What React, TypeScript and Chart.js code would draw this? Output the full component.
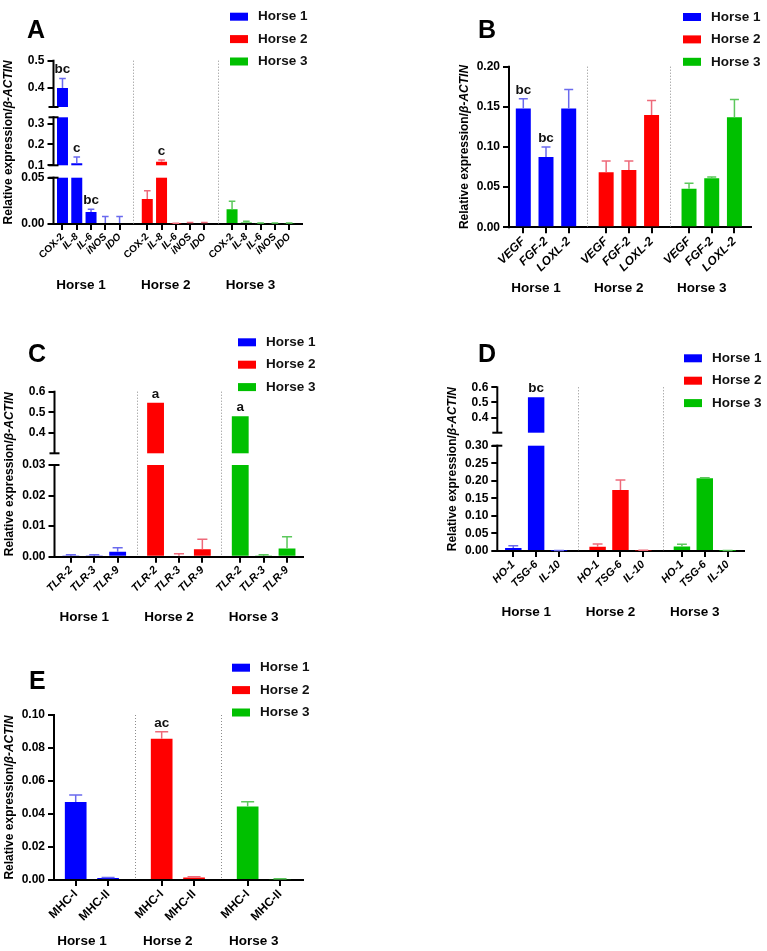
import { useEffect, useRef } from 'react';
import { Chart, registerables, LinearScale } from 'chart.js';

Chart.register(...registerables);

const FONT = '"Liberation Sans", Arial, Helvetica, sans-serif';
Chart.defaults.font.family = FONT;

// ---------- shared ----------
const HORSES = ['Horse 1', 'Horse 2', 'Horse 3'];
const HORSE_COLORS = ['#0000ff', '#ff0000', '#00c000'];
const ERROR_COLORS = ['#6a6aee', '#ee6a7a', '#5cc85c'];
const UPRIGHT_GENES = ['COX-2', 'MHC-I', 'MHC-II'];

// ---------- A: inflammatory mediators ----------
const genesA = ['COX-2', 'IL-8', 'IL-6', 'iNOS', 'IDO'];
const meanA = [
  [0.4, 0.11, 0.013, 0.001, 0.001],
  [0.027, 0.117, 0.0005, 0.0012, 0.0012],
  [0.016, 0.0015, 0.0008, 0.0008, 0.0008],
];
const sdA = [
  [0.035, 0.03, 0.003, 0.007, 0.007],
  [0.009, 0.008, 0.0002, 0.0004, 0.0004],
  [0.0085, 0.0015, 0.0004, 0.0003, 0.0003],
];
const marksA = [
  ['bc', 'c', 'bc', '', ''],
  ['', 'c', '', '', ''],
  ['', '', '', '', ''],
];
const yTicksA = [0, 0.05, 0.1, 0.2, 0.3, 0.4, 0.5];
const yLabelsA = ['0.00', '0.05', '0.1', '0.2', '0.3', '0.4', '0.5'];

// ---------- B: angiogenic factors ----------
const genesB = ['VEGF', 'FGF-2', 'LOXL-2'];
const meanB = [
  [0.148, 0.0875, 0.148],
  [0.0685, 0.0713, 0.14],
  [0.048, 0.061, 0.137],
];
const sdB = [
  [0.012, 0.0125, 0.0235],
  [0.014, 0.0112, 0.018],
  [0.007, 0.0015, 0.022],
];
const marksB = [
  ['bc', 'bc', ''],
  ['', '', ''],
  ['', '', ''],
];
const yTicksB = [0, 0.05, 0.1, 0.15, 0.2];
const yLabelsB = ['0.00', '0.05', '0.10', '0.15', '0.20'];

// ---------- C: toll-like receptors ----------
const genesC = ['TLR-2', 'TLR-3', 'TLR-9'];
const meanC = [
  [0.0002, 0.0002, 0.0016],
  [0.546, 0.0003, 0.0024],
  [0.48, 0.0002, 0.0027],
];
const sdC = [
  [0.0004, 0.0004, 0.0013],
  [0, 0.0007, 0.0033],
  [0, 0.0004, 0.0038],
];
const marksC = [
  ['', '', ''],
  ['a', '', ''],
  ['a', '', ''],
];
const yTicksC = [0, 0.01, 0.02, 0.03, 0.4, 0.5, 0.6];
const yLabelsC = ['0.00', '0.01', '0.02', '0.03', '0.4', '0.5', '0.6'];

// ---------- D: immunomodulatory genes ----------
const genesD = ['HO-1', 'TSG-6', 'IL-10'];
const meanD = [
  [0.0085, 0.535, 0.0008],
  [0.0123, 0.174, 0.0012],
  [0.0125, 0.207, 0.0008],
];
const sdD = [
  [0.0065, 0, 0.0004],
  [0.0077, 0.028, 0.0008],
  [0.0065, 0.0015, 0.0006],
];
const marksD = [
  ['', 'bc', ''],
  ['', '', ''],
  ['', '', ''],
];
const yTicksD = [0, 0.05, 0.1, 0.15, 0.2, 0.25, 0.3, 0.4, 0.5, 0.6];
const yLabelsD = ['0.00', '0.05', '0.10', '0.15', '0.20', '0.25', '0.30', '0.4', '0.5', '0.6'];

// ---------- E: MHC ----------
const genesE = ['MHC-I', 'MHC-II'];
const meanE = [
  [0.0473, 0.0012],
  [0.0856, 0.0015],
  [0.0445, 0.0005],
];
const sdE = [
  [0.0042, 0.0003],
  [0.0043, 0.0004],
  [0.003, 0.0002],
];
const marksE = [
  ['', ''],
  ['ac', ''],
  ['', ''],
];
const yTicksE = [0, 0.02, 0.04, 0.06, 0.08, 0.1];
const yLabelsE = ['0.00', '0.02', '0.04', '0.06', '0.08', '0.10'];

// ---------- broken value axis ----------
type Segment = { min: number; max: number; size: number };
type AxisSpec = { segments: Segment[]; gaps: number[]; ticks: number[] };

const axisSpecs = new WeakMap<HTMLCanvasElement, AxisSpec>();

class BrokenLinearScale extends (LinearScale as any) {
  static id = 'brokenLinear';
  static defaults = {};

  axisSpec(): AxisSpec {
    return axisSpecs.get(this.chart.canvas) as AxisSpec;
  }

  determineDataLimits() {
    const s = this.axisSpec();
    this.min = s.segments[0].min;
    this.max = s.segments[s.segments.length - 1].max;
  }

  buildTicks() {
    return this.axisSpec().ticks.map((value) => ({ value }));
  }

  // pixel band [lo (bottom), hi (top)] of each segment, bottom-up
  bands() {
    const s = this.axisSpec();
    const total =
      s.segments.reduce((acc, g) => acc + g.size, 0) + s.gaps.reduce((acc, g) => acc + g, 0);
    const k = (this.bottom - this.top) / total;
    let y = this.bottom;
    return s.segments.map((seg, i) => {
      const lo = y;
      const hi = y - seg.size * k;
      y = hi - (s.gaps[i] || 0) * k;
      return { ...seg, lo, hi };
    });
  }

  getPixelForValue(value: number) {
    const bands = this.bands();
    for (let i = 0; i < bands.length; i++) {
      const b = bands[i];
      if (value <= b.max || i === bands.length - 1) {
        const t = Math.max(0, (value - b.min) / (b.max - b.min));
        return b.lo - t * (b.lo - b.hi);
      }
    }
    return this.bottom;
  }

  getValueForPixel(pixel: number) {
    const bands = this.bands();
    for (const b of bands) {
      if (pixel >= b.hi) {
        const t = (b.lo - pixel) / (b.lo - b.hi);
        return b.min + Math.max(0, t) * (b.max - b.min);
      }
    }
    return bands[bands.length - 1].max;
  }
}

Chart.register(BrokenLinearScale as any);

// ---------- panel layout ----------
type Panel = {
  letter: string;
  genes: string[];
  means: number[][];
  sds: number[][];
  marks: string[][];
  yTicks: number[];
  yLabels: string[];
  segments: Segment[];
  gaps: number[];
  box: { left: number; top: number; width: number; height: number };
  area: { left: number; top: number; right: number; bottom: number };
  padL: number;
  groupGap: number;
  padR: number;
  barFrac: number;
  tickFont: number;
  legend: { x: number; y: number };
  letterPos: { x: number; y: number };
};

const PANELS: Panel[] = [
  {
    letter: 'A',
    genes: genesA,
    means: meanA,
    sds: sdA,
    marks: marksA,
    yTicks: yTicksA,
    yLabels: yLabelsA,
    segments: [
      { min: 0, max: 0.05, size: 46.3 },
      { min: 0.1, max: 0.33, size: 48 },
      { min: 0.33, max: 0.5, size: 46.3 },
    ],
    gaps: [12.4, 10.3],
    box: { left: 0, top: 0, width: 383, height: 305 },
    area: { left: 53.5, top: 60.7, right: 302, bottom: 224 },
    padL: 0.63,
    groupGap: 0.94,
    padR: 0.9,
    barFrac: 0.77,
    tickFont: 10,
    legend: { x: 230, y: 16.7 },
    letterPos: { x: 27, y: 38 },
  },
  {
    letter: 'B',
    genes: genesB,
    means: meanB,
    sds: sdB,
    marks: marksB,
    yTicks: yTicksB,
    yLabels: yLabelsB,
    segments: [{ min: 0, max: 0.2, size: 1 }],
    gaps: [],
    box: { left: 383, top: 0, width: 384, height: 305 },
    area: { left: 126, top: 66.7, right: 368, bottom: 227.3 },
    padL: 0.63,
    groupGap: 0.65,
    padR: 0.73,
    barFrac: 0.66,
    tickFont: 12,
    legend: { x: 300, y: 17 },
    letterPos: { x: 95, y: 38 },
  },
  {
    letter: 'C',
    genes: genesC,
    means: meanC,
    sds: sdC,
    marks: marksC,
    yTicks: yTicksC,
    yLabels: yLabelsC,
    segments: [
      { min: 0, max: 0.03, size: 91.7 },
      { min: 0.3, max: 0.6, size: 61.6 },
    ],
    gaps: [11.7],
    box: { left: 0, top: 305, width: 383, height: 320 },
    area: { left: 54.5, top: 86.7, right: 302.7, bottom: 251.7 },
    padL: 0.7,
    groupGap: 0.62,
    padR: 0.67,
    barFrac: 0.72,
    tickFont: 11,
    legend: { x: 238, y: 37.3 },
    letterPos: { x: 28, y: 56.7 },
  },
  {
    letter: 'D',
    genes: genesD,
    means: meanD,
    sds: sdD,
    marks: marksD,
    yTicks: yTicksD,
    yLabels: yLabelsD,
    segments: [
      { min: 0, max: 0.3, size: 105.3 },
      { min: 0.3, max: 0.6, size: 45.4 },
    ],
    gaps: [13],
    box: { left: 383, top: 305, width: 384, height: 320 },
    area: { left: 114.3, top: 82.3, right: 361.3, bottom: 246 },
    padL: 0.7,
    groupGap: 0.69,
    padR: 0.73,
    barFrac: 0.72,
    tickFont: 11,
    legend: { x: 301, y: 53.3 },
    letterPos: { x: 95, y: 56.7 },
  },
  {
    letter: 'E',
    genes: genesE,
    means: meanE,
    sds: sdE,
    marks: marksE,
    yTicks: yTicksE,
    yLabels: yLabelsE,
    segments: [{ min: 0, max: 0.1, size: 1 }],
    gaps: [],
    box: { left: 0, top: 625, width: 383, height: 326 },
    area: { left: 54, top: 90, right: 302.7, bottom: 255 },
    padL: 0.67,
    groupGap: 0.655,
    padR: 0.7,
    barFrac: 0.67,
    tickFont: 12,
    legend: { x: 232, y: 42.7 },
    letterPos: { x: 29, y: 64 },
  },
];

const Y_AXIS_WIDTH = 53;
const X_AXIS_HEIGHT = 50;

const boldFont = (size: number, italic = false) =>
  `${italic ? 'italic ' : ''}bold ${size}px ${FONT}`;

// position of gene i of horse g along the category axis
const slot = (p: Panel, g: number, i: number) => g * (p.genes.length + p.groupGap) + i;

function decorPlugin(p: Panel) {
  const n = p.genes.length;
  return {
    id: 'panelDecor',
    afterDatasetsDraw(chart: any) {
      const { ctx, chartArea: a } = chart;
      const yScale = chart.scales.y;
      const xScale = chart.scales.x;
      const bands = yScale.bands();
      ctx.save();

      // white gap across the plot where the value axis is broken
      ctx.fillStyle = '#ffffff';
      for (let i = 0; i < bands.length - 1; i++) {
        const top = bands[i + 1].lo;
        const bottom = bands[i].hi;
        ctx.fillRect(a.left + 1, top, a.right - a.left, bottom - top);
      }

      // dotted separators between horses
      ctx.strokeStyle = '#8c8c8c';
      ctx.lineWidth = 1;
      ctx.setLineDash([1, 2]);
      for (let g = 0; g < HORSES.length - 1; g++) {
        const v = (slot(p, g, n - 1) + slot(p, g + 1, 0)) / 2;
        const px = Math.round(xScale.getPixelForValue(v)) + 0.5;
        ctx.beginPath();
        ctx.moveTo(px, a.top);
        ctx.lineTo(px, a.bottom);
        ctx.stroke();
      }
      ctx.setLineDash([]);

      // error bars (mean + SD) and significance letters
      chart.data.datasets.forEach((_ds: any, g: number) => {
        const meta = chart.getDatasetMeta(g);
        meta.data.forEach((bar: any, i: number) => {
          const { x, y, width } = bar.getProps(['x', 'y', 'width'], true);
          const sd = p.sds[g][i];
          const topPx = yScale.getPixelForValue(p.means[g][i] + sd);
          if (sd > 0) {
            const cap = width * 0.6;
            ctx.strokeStyle = ERROR_COLORS[g];
            ctx.lineWidth = 1.5;
            ctx.beginPath();
            ctx.moveTo(x, y);
            ctx.lineTo(x, topPx);
            ctx.moveTo(x - cap / 2, topPx);
            ctx.lineTo(x + cap / 2, topPx);
            ctx.stroke();
          }
          const mark = p.marks[g][i];
          if (mark) {
            ctx.fillStyle = '#111';
            ctx.font = boldFont(13.5);
            ctx.textAlign = 'center';
            ctx.textBaseline = 'bottom';
            ctx.fillText(mark, x, Math.min(topPx, y) - 2);
          }
        });
      });
      ctx.restore();
    },
    afterDraw(chart: any) {
      const { ctx, chartArea: a } = chart;
      const yScale = chart.scales.y;
      const xScale = chart.scales.x;
      const bands = yScale.bands();
      ctx.save();

      // value axis, one stroke per segment, capped at the breaks
      ctx.strokeStyle = '#000';
      ctx.lineWidth = 2;
      bands.forEach((b: any, i: number) => {
        ctx.beginPath();
        ctx.moveTo(a.left, b.lo + (i === 0 ? 1 : 0));
        ctx.lineTo(a.left, b.hi - 1);
        ctx.stroke();
        if (i > 0) {
          ctx.beginPath();
          ctx.moveTo(a.left - 5, b.lo);
          ctx.lineTo(a.left + 5, b.lo);
          ctx.stroke();
        }
        if (i < bands.length - 1) {
          ctx.beginPath();
          ctx.moveTo(a.left - 5, b.hi);
          ctx.lineTo(a.left + 5, b.hi);
          ctx.stroke();
        }
      });

      // axis title: "Relative expression/" upright, gene name italic
      const t1 = 'Relative expression/';
      const t2 = 'β-ACTIN';
      const titleSize = 12;
      ctx.font = boldFont(titleSize);
      const w1 = ctx.measureText(t1).width;
      ctx.font = boldFont(titleSize, true);
      const w2 = ctx.measureText(t2).width;
      ctx.translate(a.left - 44.5, (a.top + a.bottom) / 2);
      ctx.rotate(-Math.PI / 2);
      ctx.fillStyle = '#000';
      ctx.textBaseline = 'middle';
      ctx.textAlign = 'left';
      ctx.font = boldFont(titleSize);
      ctx.fillText(t1, -(w1 + w2) / 2, 0);
      ctx.font = boldFont(titleSize, true);
      ctx.fillText(t2, -(w1 + w2) / 2 + w1, 0);
      ctx.setTransform(1, 0, 0, 1, 0, 0);

      // horse labels under each group
      ctx.font = boldFont(13.5);
      ctx.textAlign = 'center';
      ctx.textBaseline = 'middle';
      HORSES.forEach((h, g) => {
        const c = (xScale.getPixelForValue(slot(p, g, 0)) + xScale.getPixelForValue(slot(p, g, n - 1))) / 2;
        ctx.fillText(h, c - 10, a.bottom + 61);
      });

      // legend
      ctx.textAlign = 'left';
      HORSES.forEach((h, g) => {
        const cy = p.legend.y + g * 22.4;
        ctx.fillStyle = HORSE_COLORS[g];
        ctx.fillRect(p.legend.x, cy - 4, 18, 8);
        ctx.fillStyle = '#111';
        ctx.fillText(h, p.legend.x + 28, cy);
      });

      // panel letter
      ctx.font = boldFont(25);
      ctx.textBaseline = 'alphabetic';
      ctx.fillStyle = '#000';
      ctx.fillText(p.letter, p.letterPos.x, p.letterPos.y);
      ctx.restore();
    },
  };
}

function buildConfig(p: Panel): any {
  const n = p.genes.length;
  const positions: number[] = [];
  HORSES.forEach((_h, g) => p.genes.forEach((_gene, i) => positions.push(slot(p, g, i))));
  const xMin = -p.padL;
  const xMax = slot(p, HORSES.length - 1, n - 1) + p.padR;

  return {
    type: 'bar',
    data: {
      datasets: HORSES.map((h, g) => ({
        label: h,
        data: p.genes.map((_gene, i) => ({ x: slot(p, g, i), y: p.means[g][i] })),
        backgroundColor: HORSE_COLORS[g],
        borderWidth: 0,
        grouped: false,
        categoryPercentage: 1,
        barPercentage: p.barFrac,
      })),
    },
    options: {
      animation: false,
      responsive: false,
      devicePixelRatio: 1,
      events: [],
      layout: {
        padding: {
          left: p.area.left - Y_AXIS_WIDTH,
          top: p.area.top,
          right: p.box.width - p.area.right,
          bottom: p.box.height - p.area.bottom - X_AXIS_HEIGHT,
        },
      },
      plugins: { legend: { display: false }, tooltip: { enabled: false } },
      scales: {
        x: {
          type: 'linear',
          min: xMin,
          max: xMax,
          offset: false,
          bounds: 'data',
          afterBuildTicks: (scale: any) => {
            scale.ticks = positions.map((value) => ({ value }));
          },
          afterFit: (scale: any) => {
            scale.height = X_AXIS_HEIGHT;
          },
          grid: {
            display: true,
            offset: false,
            drawOnChartArea: false,
            drawTicks: true,
            tickLength: 6,
            lineWidth: 2,
            color: '#000',
          },
          border: { display: true, color: '#000', width: 2 },
          ticks: {
            autoSkip: false,
            minRotation: 45,
            maxRotation: 45,
            padding: 1,
            color: '#000',
            font: (c: any) => ({
              family: FONT,
              size: p.tickFont,
              weight: 'bold',
              style: UPRIGHT_GENES.includes(p.genes[c.index % n]) ? 'normal' : 'italic',
            }),
            callback: (_v: any, i: number) => p.genes[i % n],
          },
        },
        y: {
          type: 'brokenLinear',
          afterFit: (scale: any) => {
            scale.width = Y_AXIS_WIDTH;
          },
          grid: {
            display: true,
            drawOnChartArea: false,
            drawTicks: true,
            tickLength: 6,
            lineWidth: 2,
            color: '#000',
          },
          border: { display: false },
          ticks: {
            autoSkip: false,
            padding: 3,
            color: '#000',
            font: { family: FONT, size: 12, weight: 'bold' },
            callback: (_v: any, i: number) => p.yLabels[i],
          },
        },
      },
    },
    plugins: [decorPlugin(p)],
  };
}

function PanelChart({ panel }: { panel: Panel }) {
  const ref = useRef<HTMLCanvasElement | null>(null);
  useEffect(() => {
    const canvas = ref.current;
    if (!canvas) return;
    axisSpecs.set(canvas, { segments: panel.segments, gaps: panel.gaps, ticks: panel.yTicks });
    const chart = new Chart(canvas, buildConfig(panel));
    return () => chart.destroy();
  }, [panel]);
  const { left, top, width, height } = panel.box;
  return (
    <canvas
      ref={ref}
      width={width}
      height={height}
      style={{ position: 'absolute', left, top, width, height }}
    />
  );
}

export default function App() {
  return (
    <div
      style={{
        position: 'absolute',
        left: 0,
        top: 0,
        width: 767,
        height: 951,
        background: '#ffffff',
        overflow: 'hidden',
      }}
    >
      {PANELS.map((p) => (
        <PanelChart key={p.letter} panel={p} />
      ))}
    </div>
  );
}
